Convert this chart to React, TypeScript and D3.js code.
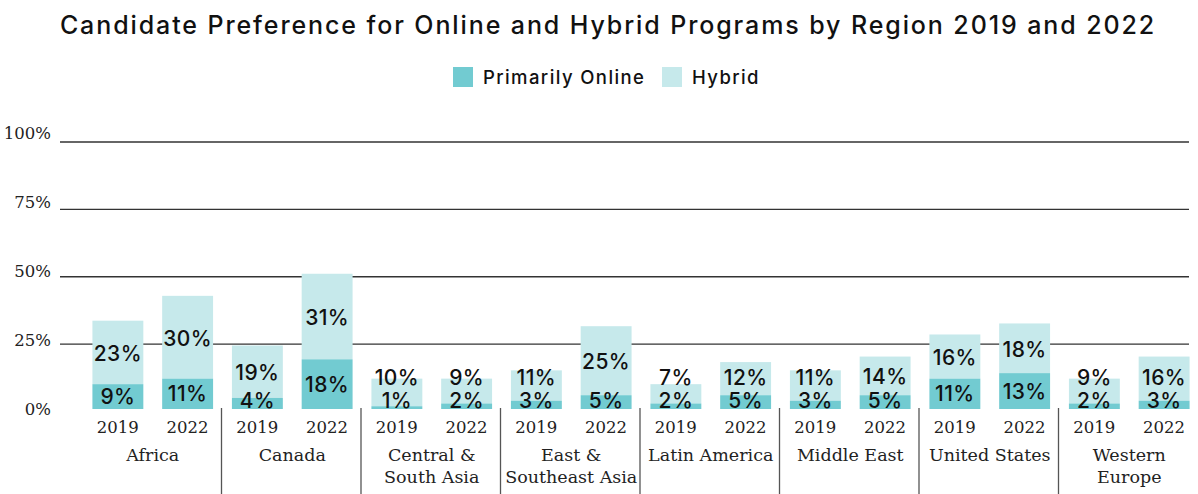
import React, { useEffect, useRef } from 'react';
import * as d3 from 'd3';

// chart data
const regions = [
  'Africa',
  'Canada',
  'Central & South Asia',
  'East & Southeast Asia',
  'Latin America',
  'Middle East',
  'United States',
  'Western Europe',
];
const regionLines = [
  ['Africa'],
  ['Canada'],
  ['Central &', 'South Asia'],
  ['East &', 'Southeast Asia'],
  ['Latin America'],
  ['Middle East'],
  ['United States'],
  ['Western', 'Europe'],
];
const years = ['2019', '2022'];
const online2019 = [9, 4, 1, 3, 2, 3, 11, 2];
const hybrid2019 = [23, 19, 10, 11, 7, 11, 16, 9];
const online2022 = [11, 18, 2, 5, 5, 5, 13, 3];
const hybrid2022 = [30, 31, 9, 25, 12, 14, 18, 16];
const yTicks = [0, 25, 50, 75, 100];

const seriesNames = ['Primarily Online', 'Hybrid'];
const colors = ['#72cbd1', '#c6e9eb'];

const W = 1198;
const H = 494;
const SANS = 'Inter, "Noto Sans", sans-serif';
const SERIF = '"DejaVu Serif", serif';

const App = () => {
  const svgRef = useRef<SVGSVGElement>(null);

  useEffect(() => {
    if (!svgRef.current) return;
    const svg = d3.select(svgRef.current);
    svg.selectAll('*').remove();

    const rows = regions.flatMap((r, i) => [
      { region: r, year: '2019', online: online2019[i], hybrid: hybrid2019[i] },
      { region: r, year: '2022', online: online2022[i], hybrid: hybrid2022[i] },
    ]);

    const x0 = d3.scaleBand().domain(regions).range([83, 1199]);
    const x1 = d3.scaleBand().domain(years).range([0, x0.bandwidth()]).paddingInner(0.27).paddingOuter(0.135);
    // bars and tick labels share one scale, the gridlines sit on a slightly flatter one
    const y = d3.scaleLinear().domain([0, 100]).range([409, 133]);
    const yGrid = d3.scaleLinear().domain([0, 100]).range([411.5, 142]);

    // title
    svg.append('text')
      .attr('x', W / 2 + 9)
      .attr('y', 34)
      .attr('text-anchor', 'middle')
      .attr('font-family', SANS)
      .attr('font-size', 25)
      .attr('font-weight', 500)
      .attr('letter-spacing', 1.9)
      .attr('fill', '#111')
      .text('Candidate Preference for Online and Hybrid Programs by Region 2019 and 2022');

    // legend
    const legend = svg.append('g');
    const legendX = [453, 662];
    seriesNames.forEach((name, i) => {
      legend.append('rect')
        .attr('x', legendX[i]).attr('y', 67)
        .attr('width', 20).attr('height', 20)
        .attr('fill', colors[i]);
      legend.append('text')
        .attr('x', legendX[i] + 30).attr('y', 84)
        .attr('font-family', SANS)
        .attr('font-size', 18.5)
        .attr('font-weight', 500)
        .attr('letter-spacing', 1.4)
        .attr('fill', '#111')
        .text(name);
    });

    // gridlines + y labels
    const grid = svg.append('g');
    yTicks.forEach(t => {
      if (t > 0) {
        grid.append('line')
          .attr('x1', 60).attr('x2', 1189)
          .attr('y1', yGrid(t)).attr('y2', yGrid(t))
          .attr('stroke', '#333').attr('stroke-width', 1.3);
      }
      grid.append('text')
        .attr('x', 51).attr('y', y(t) + 6)
        .attr('text-anchor', 'end')
        .attr('font-family', SERIF)
        .attr('font-size', 16.5)
        .attr('fill', '#222')
        .text(`${t}%`);
    });

    // bars
    const bar = svg.append('g').selectAll('g')
      .data(rows)
      .enter()
      .append('g')
      .attr('transform', d => `translate(${(x0(d.region) ?? 0) + (x1(d.year) ?? 0)},0)`);

    bar.append('rect')
      .attr('y', d => y(d.online + d.hybrid))
      .attr('width', x1.bandwidth())
      .attr('height', d => y(d.online) - y(d.online + d.hybrid))
      .attr('fill', colors[1]);
    bar.append('rect')
      .attr('y', d => y(d.online))
      .attr('width', x1.bandwidth())
      .attr('height', d => y(0) - y(d.online))
      .attr('fill', colors[0]);

    const labelStyle = (sel: any) => sel
      .attr('x', x1.bandwidth() / 2)
      .attr('text-anchor', 'middle')
      .attr('dominant-baseline', 'central')
      .attr('font-family', SANS)
      .attr('font-size', 21)
      .attr('font-weight', 500)
      .attr('letter-spacing', 0.4)
      .attr('fill', '#111');

    // online label sits low in its segment, hybrid label is pushed up to clear it
    const onlineY = (d: any) => Math.min((y(0) + y(d.online)) / 2, 400);
    const hybridY = (d: any) => Math.min((y(d.online) + y(d.online + d.hybrid)) / 2 + 1, onlineY(d) - 23);

    bar.append('text')
      .call(labelStyle)
      .attr('y', hybridY)
      .text(d => `${d.hybrid}%`);
    bar.append('text')
      .call(labelStyle)
      .attr('y', onlineY)
      .text(d => `${d.online}%`);

    // year labels
    bar.append('text')
      .attr('x', x1.bandwidth() / 2)
      .attr('y', 433)
      .attr('text-anchor', 'middle')
      .attr('font-family', SERIF)
      .attr('font-size', 16.5)
      .attr('fill', '#222')
      .text(d => d.year);

    // region labels
    const groups = svg.append('g').selectAll('g')
      .data(regions)
      .enter()
      .append('g')
      .attr('transform', d => `translate(${(x0(d) ?? 0) + x0.bandwidth() / 2},0)`);
    groups.each(function (d, i) {
      regionLines[i].forEach((line, j) => {
        d3.select(this).append('text')
          .attr('y', 461 + j * 22)
          .attr('text-anchor', 'middle')
          .attr('font-family', SERIF)
          .attr('font-size', 17.5)
          .attr('fill', '#222')
          .text(line);
      });
    });

    // separators between regions
    regions.slice(1).forEach(r => {
      svg.append('line')
        .attr('x1', (x0(r) ?? 0) - 1).attr('x2', (x0(r) ?? 0) - 1)
        .attr('y1', 408).attr('y2', H)
        .attr('stroke', '#555').attr('stroke-width', 1.3);
    });
  }, []);

  return (
    <svg
      ref={svgRef}
      width={W}
      height={H}
      style={{ position: 'absolute', left: 0, top: 0, background: '#fff' }}
    />
  );
};

export default App;
